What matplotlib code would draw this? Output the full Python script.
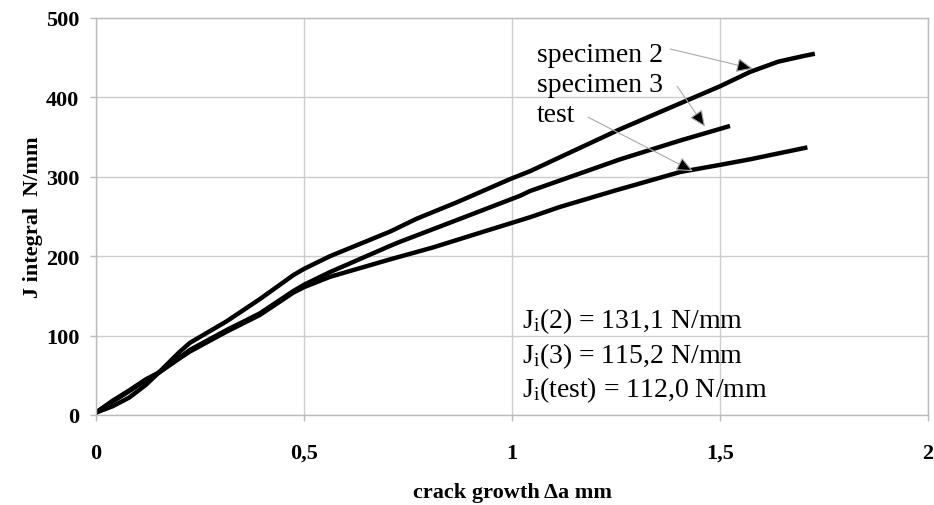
import numpy as np
import matplotlib.pyplot as plt

plt.rcParams['font.family'] = ['Liberation Serif', 'DejaVu Serif']
plt.rcParams['mathtext.default'] = 'regular'

# crack growth (mm) and J integral (N/mm)
x_spec2 = [0, 0.04, 0.08, 0.12, 0.15, 0.2, 0.226, 0.314, 0.394, 0.474, 0.5,
           0.5625, 0.707, 0.77, 0.868, 0.995, 1.043, 1.26, 1.5, 1.572, 1.64, 1.70, 1.728]
y_spec2 = [3, 11, 22, 38, 53, 79, 91, 118, 146, 176, 184,
           200, 231, 247, 268, 297, 307, 360, 414, 432, 445, 452, 455]

x_spec3 = [0, 0.04, 0.08, 0.12, 0.15, 0.2, 0.226, 0.314, 0.394, 0.474, 0.5,
           0.5625, 0.707, 0.73, 0.85, 1.019, 1.043, 1.26, 1.4, 1.524]
y_spec3 = [3, 18, 31, 45, 53, 72, 82, 107, 128, 156, 164,
           180, 213, 218, 242, 276, 282, 322, 345, 364]

x_test = [0, 0.04, 0.08, 0.12, 0.15, 0.2, 0.226, 0.314, 0.394, 0.474, 0.5,
          0.5625, 0.707, 0.81, 0.92, 1.043, 1.115, 1.25, 1.404, 1.5, 1.572, 1.71]
y_test = [3, 17, 30, 44, 53, 71, 80, 105, 126, 154, 161,
          174, 196, 211, 229, 249, 262, 283, 306, 315, 322, 337]

x_ticks = [0, 0.5, 1, 1.5, 2]
x_tick_labels = ['0', '0,5', '1', '1,5', '2']
y_ticks = [0, 100, 200, 300, 400, 500]

fig = plt.figure(figsize=(9.34, 5.06), dpi=100)
ax = fig.add_axes([0.1028, 0.1779, 0.8908, 0.7846])

ax.plot(x_spec2, y_spec2, color='black', lw=3.2, solid_capstyle='butt')
ax.plot(x_spec3, y_spec3, color='black', lw=3.2, solid_capstyle='butt')
ax.plot(x_test, y_test, color='black', lw=3.2, solid_capstyle='butt')

ax.set_xlim(0, 2)
ax.set_ylim(0, 500)
ax.set_xticks(x_ticks)
ax.set_xticklabels(x_tick_labels)
ax.set_yticks(y_ticks)
ax.grid(True, color='#cccccc', lw=1)
ax.set_axisbelow(True)
for s in ax.spines.values():
    s.set_color('#bbbbbb')
    s.set_linewidth(1)
ax.tick_params(axis='both', direction='out', length=4, width=1, color='#bbbbbb',
               labelsize=16)
ax.tick_params(axis='x', pad=16)
ax.tick_params(axis='y', pad=8)
for lab in ax.get_xticklabels() + ax.get_yticklabels():
    lab.set_fontweight('bold')

ax.set_xlabel('crack growth \u0394a mm', fontsize=16, fontweight='bold', labelpad=14)
ax.set_ylabel('J integral  N/mm', fontsize=16, fontweight='bold', labelpad=2)

# curve labels with arrows
ax.text(1.06, 446, 'specimen 2', fontsize=20, va='baseline')
ax.text(1.06, 408, 'specimen 3', fontsize=20, va='baseline')
ax.text(1.06, 370, 'test', fontsize=20, va='baseline')

arrow = dict(arrowstyle='-|>,head_length=0.5,head_width=0.22', fc='black',
             ec='#aaaaaa', lw=0.8, mutation_scale=20, shrinkA=0, shrinkB=0)
ax.annotate('', xy=(1.579, 436), xytext=(1.38, 461), arrowprops=arrow)
ax.annotate('', xy=(1.464, 363), xytext=(1.397, 414), arrowprops=arrow)
ax.annotate('', xy=(1.435, 307), xytext=(1.183, 375), arrowprops=arrow)

ax.text(1.024, 110.8, 'J$_{i}$(2) = 131,1 N/mm', fontsize=20, va='baseline')
ax.text(1.024, 66.8, 'J$_{i}$(3) = 115,2 N/mm', fontsize=20, va='baseline')
ax.text(1.024, 23.9, 'J$_{i}$(test) = 112,0 N/mm', fontsize=20, va='baseline')

fig.savefig('out.png', dpi=100)
